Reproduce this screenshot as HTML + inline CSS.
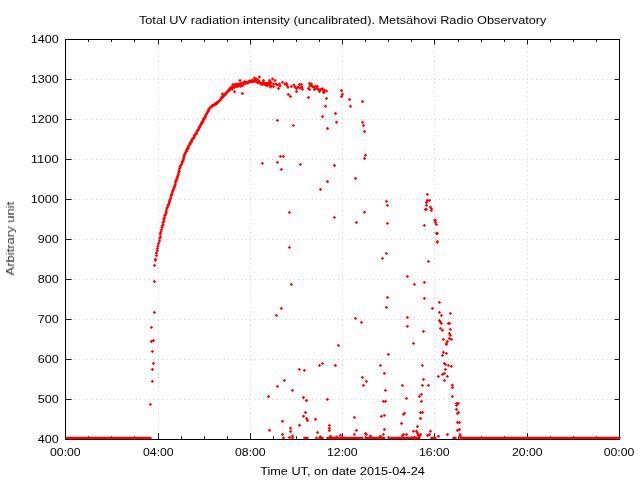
<!DOCTYPE html>
<html><head><meta charset="utf-8"><title>UV</title><style>html,body{margin:0;padding:0;background:#fff}body{width:640px;height:480px;overflow:hidden;font-family:"Liberation Sans",sans-serif}</style></head><body>
<svg width="640" height="480" viewBox="0 0 640 480" style="display:block">
<rect width="640" height="480" fill="#fff"/>
<g stroke="#cdcdcd" stroke-width="1" stroke-dasharray="1 3.4"><line x1="158.5" y1="47.3" x2="158.5" y2="432" /><line x1="250.5" y1="47.3" x2="250.5" y2="432" /><line x1="342.5" y1="47.3" x2="342.5" y2="432" /><line x1="434.5" y1="47.3" x2="434.5" y2="432" /><line x1="527.5" y1="47.3" x2="527.5" y2="432" /><line x1="74" y1="399.5" x2="613" y2="399.5" /><line x1="74" y1="359.5" x2="613" y2="359.5" /><line x1="74" y1="319.5" x2="613" y2="319.5" /><line x1="74" y1="279.5" x2="613" y2="279.5" /><line x1="74" y1="239.5" x2="613" y2="239.5" /><line x1="74" y1="199.5" x2="613" y2="199.5" /><line x1="74" y1="159.5" x2="613" y2="159.5" /><line x1="74" y1="119.5" x2="613" y2="119.5" /><line x1="74" y1="79.5" x2="613" y2="79.5" /></g>
<g stroke="#1c1c1c" stroke-width="1"><line x1="88.5" y1="39" x2="88.5" y2="42.1"/><line x1="88.5" y1="440" x2="88.5" y2="436.2"/><line x1="111.5" y1="39" x2="111.5" y2="42.1"/><line x1="111.5" y1="440" x2="111.5" y2="436.2"/><line x1="134.5" y1="39" x2="134.5" y2="42.1"/><line x1="134.5" y1="440" x2="134.5" y2="436.2"/><line x1="158.5" y1="39" x2="158.5" y2="44.6"/><line x1="158.5" y1="440" x2="158.5" y2="433.1"/><line x1="181.5" y1="39" x2="181.5" y2="42.1"/><line x1="181.5" y1="440" x2="181.5" y2="436.2"/><line x1="204.5" y1="39" x2="204.5" y2="42.1"/><line x1="204.5" y1="440" x2="204.5" y2="436.2"/><line x1="227.5" y1="39" x2="227.5" y2="42.1"/><line x1="227.5" y1="440" x2="227.5" y2="436.2"/><line x1="250.5" y1="39" x2="250.5" y2="44.6"/><line x1="250.5" y1="440" x2="250.5" y2="433.1"/><line x1="273.5" y1="39" x2="273.5" y2="42.1"/><line x1="273.5" y1="440" x2="273.5" y2="436.2"/><line x1="296.5" y1="39" x2="296.5" y2="42.1"/><line x1="296.5" y1="440" x2="296.5" y2="436.2"/><line x1="319.5" y1="39" x2="319.5" y2="42.1"/><line x1="319.5" y1="440" x2="319.5" y2="436.2"/><line x1="342.5" y1="39" x2="342.5" y2="44.6"/><line x1="342.5" y1="440" x2="342.5" y2="433.1"/><line x1="365.5" y1="39" x2="365.5" y2="42.1"/><line x1="365.5" y1="440" x2="365.5" y2="436.2"/><line x1="388.5" y1="39" x2="388.5" y2="42.1"/><line x1="388.5" y1="440" x2="388.5" y2="436.2"/><line x1="411.5" y1="39" x2="411.5" y2="42.1"/><line x1="411.5" y1="440" x2="411.5" y2="436.2"/><line x1="434.5" y1="39" x2="434.5" y2="44.6"/><line x1="434.5" y1="440" x2="434.5" y2="433.1"/><line x1="458.5" y1="39" x2="458.5" y2="42.1"/><line x1="458.5" y1="440" x2="458.5" y2="436.2"/><line x1="481.5" y1="39" x2="481.5" y2="42.1"/><line x1="481.5" y1="440" x2="481.5" y2="436.2"/><line x1="504.5" y1="39" x2="504.5" y2="42.1"/><line x1="504.5" y1="440" x2="504.5" y2="436.2"/><line x1="527.5" y1="39" x2="527.5" y2="44.6"/><line x1="527.5" y1="440" x2="527.5" y2="433.1"/><line x1="550.5" y1="39" x2="550.5" y2="42.1"/><line x1="550.5" y1="440" x2="550.5" y2="436.2"/><line x1="573.5" y1="39" x2="573.5" y2="42.1"/><line x1="573.5" y1="440" x2="573.5" y2="436.2"/><line x1="596.5" y1="39" x2="596.5" y2="42.1"/><line x1="596.5" y1="440" x2="596.5" y2="436.2"/><line x1="65" y1="399.5" x2="71.6" y2="399.5"/><line x1="620" y1="399.5" x2="614.4" y2="399.5"/><line x1="65" y1="359.5" x2="71.6" y2="359.5"/><line x1="620" y1="359.5" x2="614.4" y2="359.5"/><line x1="65" y1="319.5" x2="71.6" y2="319.5"/><line x1="620" y1="319.5" x2="614.4" y2="319.5"/><line x1="65" y1="279.5" x2="71.6" y2="279.5"/><line x1="620" y1="279.5" x2="614.4" y2="279.5"/><line x1="65" y1="239.5" x2="71.6" y2="239.5"/><line x1="620" y1="239.5" x2="614.4" y2="239.5"/><line x1="65" y1="199.5" x2="71.6" y2="199.5"/><line x1="620" y1="199.5" x2="614.4" y2="199.5"/><line x1="65" y1="159.5" x2="71.6" y2="159.5"/><line x1="620" y1="159.5" x2="614.4" y2="159.5"/><line x1="65" y1="119.5" x2="71.6" y2="119.5"/><line x1="620" y1="119.5" x2="614.4" y2="119.5"/><line x1="65" y1="79.5" x2="71.6" y2="79.5"/><line x1="620" y1="79.5" x2="614.4" y2="79.5"/></g>
<rect x="65.5" y="39.5" width="554" height="400" fill="none" stroke="#000" stroke-width="1" shape-rendering="crispEdges"/>
<path fill="#f00" d="M148.72 404.40l1.68 -1.68l1.68 1.68l-1.68 1.68zM150.72 381.40l1.68 -1.68l1.68 1.68l-1.68 1.68zM150.72 369.50l1.68 -1.68l1.68 1.68l-1.68 1.68zM151.72 363.50l1.68 -1.68l1.68 1.68l-1.68 1.68zM150.72 351.40l1.68 -1.68l1.68 1.68l-1.68 1.68zM149.72 341.50l1.68 -1.68l1.68 1.68l-1.68 1.68zM151.82 340.50l1.68 -1.68l1.68 1.68l-1.68 1.68zM149.72 327.40l1.68 -1.68l1.68 1.68l-1.68 1.68zM152.72 312.40l1.68 -1.68l1.68 1.68l-1.68 1.68zM152.72 281.50l1.68 -1.68l1.68 1.68l-1.68 1.68zM152.72 265.40l1.68 -1.68l1.68 1.68l-1.68 1.68zM153.72 260.20l1.68 -1.68l1.68 1.68l-1.68 1.68zM153.82 259.20l1.68 -1.68l1.68 1.68l-1.68 1.68zM154.72 255.50l1.68 -1.68l1.68 1.68l-1.68 1.68zM154.72 253.00l1.68 -1.68l1.68 1.68l-1.68 1.68zM155.72 250.50l1.68 -1.68l1.68 1.68l-1.68 1.68zM155.72 248.50l1.68 -1.68l1.68 1.68l-1.68 1.68zM156.32 246.00l1.68 -1.68l1.68 1.68l-1.68 1.68zM156.82 243.50l1.68 -1.68l1.68 1.68l-1.68 1.68zM157.82 241.00l1.68 -1.68l1.68 1.68l-1.68 1.68zM158.02 238.50l1.68 -1.68l1.68 1.68l-1.68 1.68zM158.82 237.00l1.68 -1.68l1.68 1.68l-1.68 1.68zM158.51 234.36l1.68 -1.68l1.68 1.68l-1.68 1.68zM158.82 232.99l1.68 -1.68l1.68 1.68l-1.68 1.68zM159.47 231.26l1.68 -1.68l1.68 1.68l-1.68 1.68zM159.98 229.24l1.68 -1.68l1.68 1.68l-1.68 1.68zM160.30 227.59l1.68 -1.68l1.68 1.68l-1.68 1.68zM160.38 225.98l1.68 -1.68l1.68 1.68l-1.68 1.68zM161.42 224.63l1.68 -1.68l1.68 1.68l-1.68 1.68zM161.26 222.75l1.68 -1.68l1.68 1.68l-1.68 1.68zM162.30 221.52l1.68 -1.68l1.68 1.68l-1.68 1.68zM162.19 219.85l1.68 -1.68l1.68 1.68l-1.68 1.68zM162.26 218.53l1.68 -1.68l1.68 1.68l-1.68 1.68zM162.86 217.15l1.68 -1.68l1.68 1.68l-1.68 1.68zM163.09 215.52l1.68 -1.68l1.68 1.68l-1.68 1.68zM164.11 214.59l1.68 -1.68l1.68 1.68l-1.68 1.68zM164.28 213.43l1.68 -1.68l1.68 1.68l-1.68 1.68zM164.48 212.74l1.68 -1.68l1.68 1.68l-1.68 1.68zM164.58 211.26l1.68 -1.68l1.68 1.68l-1.68 1.68zM165.10 208.95l1.68 -1.68l1.68 1.68l-1.68 1.68zM165.68 207.52l1.68 -1.68l1.68 1.68l-1.68 1.68zM166.21 206.03l1.68 -1.68l1.68 1.68l-1.68 1.68zM166.33 205.11l1.68 -1.68l1.68 1.68l-1.68 1.68zM167.08 204.36l1.68 -1.68l1.68 1.68l-1.68 1.68zM167.35 202.89l1.68 -1.68l1.68 1.68l-1.68 1.68zM168.01 201.97l1.68 -1.68l1.68 1.68l-1.68 1.68zM167.86 200.98l1.68 -1.68l1.68 1.68l-1.68 1.68zM168.09 200.03l1.68 -1.68l1.68 1.68l-1.68 1.68zM169.05 198.42l1.68 -1.68l1.68 1.68l-1.68 1.68zM169.20 196.80l1.68 -1.68l1.68 1.68l-1.68 1.68zM169.74 195.30l1.68 -1.68l1.68 1.68l-1.68 1.68zM170.04 194.47l1.68 -1.68l1.68 1.68l-1.68 1.68zM170.19 193.18l1.68 -1.68l1.68 1.68l-1.68 1.68zM170.83 191.88l1.68 -1.68l1.68 1.68l-1.68 1.68zM171.09 190.63l1.68 -1.68l1.68 1.68l-1.68 1.68zM171.92 189.68l1.68 -1.68l1.68 1.68l-1.68 1.68zM172.05 188.32l1.68 -1.68l1.68 1.68l-1.68 1.68zM172.47 187.22l1.68 -1.68l1.68 1.68l-1.68 1.68zM173.11 186.92l1.68 -1.68l1.68 1.68l-1.68 1.68zM172.86 185.99l1.68 -1.68l1.68 1.68l-1.68 1.68zM173.59 184.40l1.68 -1.68l1.68 1.68l-1.68 1.68zM173.79 182.85l1.68 -1.68l1.68 1.68l-1.68 1.68zM173.86 181.72l1.68 -1.68l1.68 1.68l-1.68 1.68zM174.84 180.38l1.68 -1.68l1.68 1.68l-1.68 1.68zM174.75 179.15l1.68 -1.68l1.68 1.68l-1.68 1.68zM175.70 178.01l1.68 -1.68l1.68 1.68l-1.68 1.68zM175.70 176.42l1.68 -1.68l1.68 1.68l-1.68 1.68zM176.48 175.45l1.68 -1.68l1.68 1.68l-1.68 1.68zM176.84 174.32l1.68 -1.68l1.68 1.68l-1.68 1.68zM176.83 172.56l1.68 -1.68l1.68 1.68l-1.68 1.68zM177.63 171.37l1.68 -1.68l1.68 1.68l-1.68 1.68zM177.36 170.60l1.68 -1.68l1.68 1.68l-1.68 1.68zM177.81 168.72l1.68 -1.68l1.68 1.68l-1.68 1.68zM178.43 167.52l1.68 -1.68l1.68 1.68l-1.68 1.68zM178.61 166.56l1.68 -1.68l1.68 1.68l-1.68 1.68zM179.14 165.13l1.68 -1.68l1.68 1.68l-1.68 1.68zM179.65 164.46l1.68 -1.68l1.68 1.68l-1.68 1.68zM180.15 163.96l1.68 -1.68l1.68 1.68l-1.68 1.68zM180.47 162.65l1.68 -1.68l1.68 1.68l-1.68 1.68zM180.35 161.82l1.68 -1.68l1.68 1.68l-1.68 1.68zM181.39 160.96l1.68 -1.68l1.68 1.68l-1.68 1.68zM181.79 159.88l1.68 -1.68l1.68 1.68l-1.68 1.68zM181.81 158.43l1.68 -1.68l1.68 1.68l-1.68 1.68zM182.41 157.15l1.68 -1.68l1.68 1.68l-1.68 1.68zM182.28 156.05l1.68 -1.68l1.68 1.68l-1.68 1.68zM182.75 155.17l1.68 -1.68l1.68 1.68l-1.68 1.68zM183.04 154.32l1.68 -1.68l1.68 1.68l-1.68 1.68zM183.51 153.08l1.68 -1.68l1.68 1.68l-1.68 1.68zM184.09 152.20l1.68 -1.68l1.68 1.68l-1.68 1.68zM184.93 151.18l1.68 -1.68l1.68 1.68l-1.68 1.68zM184.66 150.77l1.68 -1.68l1.68 1.68l-1.68 1.68zM185.23 149.71l1.68 -1.68l1.68 1.68l-1.68 1.68zM185.41 149.03l1.68 -1.68l1.68 1.68l-1.68 1.68zM186.58 148.65l1.68 -1.68l1.68 1.68l-1.68 1.68zM186.51 147.57l1.68 -1.68l1.68 1.68l-1.68 1.68zM186.55 146.50l1.68 -1.68l1.68 1.68l-1.68 1.68zM187.08 145.94l1.68 -1.68l1.68 1.68l-1.68 1.68zM187.37 145.55l1.68 -1.68l1.68 1.68l-1.68 1.68zM188.46 144.14l1.68 -1.68l1.68 1.68l-1.68 1.68zM188.13 143.78l1.68 -1.68l1.68 1.68l-1.68 1.68zM188.40 143.02l1.68 -1.68l1.68 1.68l-1.68 1.68zM189.64 142.24l1.68 -1.68l1.68 1.68l-1.68 1.68zM189.77 141.74l1.68 -1.68l1.68 1.68l-1.68 1.68zM189.86 140.48l1.68 -1.68l1.68 1.68l-1.68 1.68zM190.61 139.66l1.68 -1.68l1.68 1.68l-1.68 1.68zM191.00 139.33l1.68 -1.68l1.68 1.68l-1.68 1.68zM190.89 138.56l1.68 -1.68l1.68 1.68l-1.68 1.68zM191.96 138.33l1.68 -1.68l1.68 1.68l-1.68 1.68zM192.18 137.74l1.68 -1.68l1.68 1.68l-1.68 1.68zM192.51 137.10l1.68 -1.68l1.68 1.68l-1.68 1.68zM192.69 136.01l1.68 -1.68l1.68 1.68l-1.68 1.68zM192.64 135.50l1.68 -1.68l1.68 1.68l-1.68 1.68zM193.25 134.62l1.68 -1.68l1.68 1.68l-1.68 1.68zM194.00 134.19l1.68 -1.68l1.68 1.68l-1.68 1.68zM194.17 134.13l1.68 -1.68l1.68 1.68l-1.68 1.68zM195.04 133.50l1.68 -1.68l1.68 1.68l-1.68 1.68zM194.86 132.90l1.68 -1.68l1.68 1.68l-1.68 1.68zM195.12 131.67l1.68 -1.68l1.68 1.68l-1.68 1.68zM195.49 130.78l1.68 -1.68l1.68 1.68l-1.68 1.68zM196.50 130.26l1.68 -1.68l1.68 1.68l-1.68 1.68zM196.50 129.57l1.68 -1.68l1.68 1.68l-1.68 1.68zM197.18 128.55l1.68 -1.68l1.68 1.68l-1.68 1.68zM197.44 127.23l1.68 -1.68l1.68 1.68l-1.68 1.68zM197.93 127.26l1.68 -1.68l1.68 1.68l-1.68 1.68zM198.04 126.51l1.68 -1.68l1.68 1.68l-1.68 1.68zM198.71 125.44l1.68 -1.68l1.68 1.68l-1.68 1.68zM199.10 124.95l1.68 -1.68l1.68 1.68l-1.68 1.68zM199.12 124.84l1.68 -1.68l1.68 1.68l-1.68 1.68zM200.00 123.77l1.68 -1.68l1.68 1.68l-1.68 1.68zM199.69 123.38l1.68 -1.68l1.68 1.68l-1.68 1.68zM200.06 122.21l1.68 -1.68l1.68 1.68l-1.68 1.68zM201.03 122.14l1.68 -1.68l1.68 1.68l-1.68 1.68zM201.43 120.84l1.68 -1.68l1.68 1.68l-1.68 1.68zM201.67 120.82l1.68 -1.68l1.68 1.68l-1.68 1.68zM201.95 119.62l1.68 -1.68l1.68 1.68l-1.68 1.68zM201.86 118.75l1.68 -1.68l1.68 1.68l-1.68 1.68zM202.81 118.66l1.68 -1.68l1.68 1.68l-1.68 1.68zM203.45 117.54l1.68 -1.68l1.68 1.68l-1.68 1.68zM203.78 116.69l1.68 -1.68l1.68 1.68l-1.68 1.68zM203.57 116.24l1.68 -1.68l1.68 1.68l-1.68 1.68zM204.03 115.01l1.68 -1.68l1.68 1.68l-1.68 1.68zM204.68 114.23l1.68 -1.68l1.68 1.68l-1.68 1.68zM204.91 113.47l1.68 -1.68l1.68 1.68l-1.68 1.68zM205.74 112.60l1.68 -1.68l1.68 1.68l-1.68 1.68zM205.72 112.01l1.68 -1.68l1.68 1.68l-1.68 1.68zM206.50 111.43l1.68 -1.68l1.68 1.68l-1.68 1.68zM206.90 110.63l1.68 -1.68l1.68 1.68l-1.68 1.68zM206.94 110.12l1.68 -1.68l1.68 1.68l-1.68 1.68zM206.86 109.56l1.68 -1.68l1.68 1.68l-1.68 1.68zM207.39 108.91l1.68 -1.68l1.68 1.68l-1.68 1.68zM208.33 107.99l1.68 -1.68l1.68 1.68l-1.68 1.68zM208.43 107.61l1.68 -1.68l1.68 1.68l-1.68 1.68zM208.88 107.67l1.68 -1.68l1.68 1.68l-1.68 1.68zM209.24 106.96l1.68 -1.68l1.68 1.68l-1.68 1.68zM209.86 106.76l1.68 -1.68l1.68 1.68l-1.68 1.68zM210.04 106.02l1.68 -1.68l1.68 1.68l-1.68 1.68zM210.17 105.75l1.68 -1.68l1.68 1.68l-1.68 1.68zM210.76 105.78l1.68 -1.68l1.68 1.68l-1.68 1.68zM211.38 105.42l1.68 -1.68l1.68 1.68l-1.68 1.68zM211.48 105.55l1.68 -1.68l1.68 1.68l-1.68 1.68zM211.92 105.15l1.68 -1.68l1.68 1.68l-1.68 1.68zM212.47 104.92l1.68 -1.68l1.68 1.68l-1.68 1.68zM212.68 104.34l1.68 -1.68l1.68 1.68l-1.68 1.68zM213.07 104.73l1.68 -1.68l1.68 1.68l-1.68 1.68zM213.45 103.60l1.68 -1.68l1.68 1.68l-1.68 1.68zM213.84 104.31l1.68 -1.68l1.68 1.68l-1.68 1.68zM214.22 103.74l1.68 -1.68l1.68 1.68l-1.68 1.68zM214.60 103.05l1.68 -1.68l1.68 1.68l-1.68 1.68zM214.99 103.75l1.68 -1.68l1.68 1.68l-1.68 1.68zM215.37 103.17l1.68 -1.68l1.68 1.68l-1.68 1.68zM215.76 102.26l1.68 -1.68l1.68 1.68l-1.68 1.68zM216.14 102.31l1.68 -1.68l1.68 1.68l-1.68 1.68zM216.53 102.25l1.68 -1.68l1.68 1.68l-1.68 1.68zM216.91 101.53l1.68 -1.68l1.68 1.68l-1.68 1.68zM217.30 101.50l1.68 -1.68l1.68 1.68l-1.68 1.68zM217.68 101.03l1.68 -1.68l1.68 1.68l-1.68 1.68zM218.07 100.54l1.68 -1.68l1.68 1.68l-1.68 1.68zM218.45 99.95l1.68 -1.68l1.68 1.68l-1.68 1.68zM218.84 99.83l1.68 -1.68l1.68 1.68l-1.68 1.68zM219.22 99.12l1.68 -1.68l1.68 1.68l-1.68 1.68zM219.61 98.57l1.68 -1.68l1.68 1.68l-1.68 1.68zM219.99 97.21l1.68 -1.68l1.68 1.68l-1.68 1.68zM220.38 97.78l1.68 -1.68l1.68 1.68l-1.68 1.68zM220.76 97.45l1.68 -1.68l1.68 1.68l-1.68 1.68zM221.15 96.41l1.68 -1.68l1.68 1.68l-1.68 1.68zM221.53 95.92l1.68 -1.68l1.68 1.68l-1.68 1.68zM221.91 96.36l1.68 -1.68l1.68 1.68l-1.68 1.68zM222.30 94.67l1.68 -1.68l1.68 1.68l-1.68 1.68zM222.68 95.05l1.68 -1.68l1.68 1.68l-1.68 1.68zM223.07 95.34l1.68 -1.68l1.68 1.68l-1.68 1.68zM223.45 93.77l1.68 -1.68l1.68 1.68l-1.68 1.68zM223.84 93.94l1.68 -1.68l1.68 1.68l-1.68 1.68zM224.22 93.96l1.68 -1.68l1.68 1.68l-1.68 1.68zM224.61 92.85l1.68 -1.68l1.68 1.68l-1.68 1.68zM224.99 92.68l1.68 -1.68l1.68 1.68l-1.68 1.68zM225.38 92.39l1.68 -1.68l1.68 1.68l-1.68 1.68zM225.76 91.35l1.68 -1.68l1.68 1.68l-1.68 1.68zM226.15 91.22l1.68 -1.68l1.68 1.68l-1.68 1.68zM226.53 91.08l1.68 -1.68l1.68 1.68l-1.68 1.68zM226.92 91.09l1.68 -1.68l1.68 1.68l-1.68 1.68zM227.30 89.99l1.68 -1.68l1.68 1.68l-1.68 1.68zM227.69 89.50l1.68 -1.68l1.68 1.68l-1.68 1.68zM228.07 88.49l1.68 -1.68l1.68 1.68l-1.68 1.68zM228.45 88.65l1.68 -1.68l1.68 1.68l-1.68 1.68zM228.84 89.30l1.68 -1.68l1.68 1.68l-1.68 1.68zM229.22 88.30l1.68 -1.68l1.68 1.68l-1.68 1.68zM229.61 87.18l1.68 -1.68l1.68 1.68l-1.68 1.68zM229.99 86.83l1.68 -1.68l1.68 1.68l-1.68 1.68zM230.38 89.31l1.68 -1.68l1.68 1.68l-1.68 1.68zM230.76 87.91l1.68 -1.68l1.68 1.68l-1.68 1.68zM231.15 87.32l1.68 -1.68l1.68 1.68l-1.68 1.68zM231.53 84.56l1.68 -1.68l1.68 1.68l-1.68 1.68zM231.92 86.95l1.68 -1.68l1.68 1.68l-1.68 1.68zM232.30 86.66l1.68 -1.68l1.68 1.68l-1.68 1.68zM232.69 87.44l1.68 -1.68l1.68 1.68l-1.68 1.68zM233.07 86.26l1.68 -1.68l1.68 1.68l-1.68 1.68zM233.46 85.71l1.68 -1.68l1.68 1.68l-1.68 1.68zM233.84 86.08l1.68 -1.68l1.68 1.68l-1.68 1.68zM234.23 84.00l1.68 -1.68l1.68 1.68l-1.68 1.68zM234.61 86.28l1.68 -1.68l1.68 1.68l-1.68 1.68zM235.00 85.61l1.68 -1.68l1.68 1.68l-1.68 1.68zM235.38 84.69l1.68 -1.68l1.68 1.68l-1.68 1.68zM235.76 86.21l1.68 -1.68l1.68 1.68l-1.68 1.68zM236.15 86.49l1.68 -1.68l1.68 1.68l-1.68 1.68zM236.53 83.84l1.68 -1.68l1.68 1.68l-1.68 1.68zM236.92 84.37l1.68 -1.68l1.68 1.68l-1.68 1.68zM237.30 85.07l1.68 -1.68l1.68 1.68l-1.68 1.68zM237.69 84.92l1.68 -1.68l1.68 1.68l-1.68 1.68zM238.07 84.39l1.68 -1.68l1.68 1.68l-1.68 1.68zM238.46 83.86l1.68 -1.68l1.68 1.68l-1.68 1.68zM238.84 86.28l1.68 -1.68l1.68 1.68l-1.68 1.68zM239.23 85.35l1.68 -1.68l1.68 1.68l-1.68 1.68zM239.61 83.45l1.68 -1.68l1.68 1.68l-1.68 1.68zM240.00 83.20l1.68 -1.68l1.68 1.68l-1.68 1.68zM240.38 85.51l1.68 -1.68l1.68 1.68l-1.68 1.68zM240.77 84.81l1.68 -1.68l1.68 1.68l-1.68 1.68zM241.15 85.35l1.68 -1.68l1.68 1.68l-1.68 1.68zM241.54 84.41l1.68 -1.68l1.68 1.68l-1.68 1.68zM241.92 82.94l1.68 -1.68l1.68 1.68l-1.68 1.68zM242.30 83.71l1.68 -1.68l1.68 1.68l-1.68 1.68zM242.69 81.65l1.68 -1.68l1.68 1.68l-1.68 1.68zM243.07 82.65l1.68 -1.68l1.68 1.68l-1.68 1.68zM243.46 83.07l1.68 -1.68l1.68 1.68l-1.68 1.68zM243.84 83.41l1.68 -1.68l1.68 1.68l-1.68 1.68zM244.23 82.28l1.68 -1.68l1.68 1.68l-1.68 1.68zM244.61 82.64l1.68 -1.68l1.68 1.68l-1.68 1.68zM245.00 82.97l1.68 -1.68l1.68 1.68l-1.68 1.68zM245.38 82.78l1.68 -1.68l1.68 1.68l-1.68 1.68zM245.77 82.86l1.68 -1.68l1.68 1.68l-1.68 1.68zM246.15 82.39l1.68 -1.68l1.68 1.68l-1.68 1.68zM246.54 81.84l1.68 -1.68l1.68 1.68l-1.68 1.68zM246.92 82.60l1.68 -1.68l1.68 1.68l-1.68 1.68zM247.31 81.88l1.68 -1.68l1.68 1.68l-1.68 1.68zM247.69 81.05l1.68 -1.68l1.68 1.68l-1.68 1.68zM248.08 81.08l1.68 -1.68l1.68 1.68l-1.68 1.68zM248.46 81.48l1.68 -1.68l1.68 1.68l-1.68 1.68zM248.85 81.32l1.68 -1.68l1.68 1.68l-1.68 1.68zM249.23 81.47l1.68 -1.68l1.68 1.68l-1.68 1.68zM249.61 81.28l1.68 -1.68l1.68 1.68l-1.68 1.68zM250.00 81.36l1.68 -1.68l1.68 1.68l-1.68 1.68zM250.38 81.05l1.68 -1.68l1.68 1.68l-1.68 1.68zM250.77 80.09l1.68 -1.68l1.68 1.68l-1.68 1.68zM251.15 81.36l1.68 -1.68l1.68 1.68l-1.68 1.68zM251.54 81.84l1.68 -1.68l1.68 1.68l-1.68 1.68zM251.92 81.35l1.68 -1.68l1.68 1.68l-1.68 1.68zM252.31 80.85l1.68 -1.68l1.68 1.68l-1.68 1.68zM252.69 81.36l1.68 -1.68l1.68 1.68l-1.68 1.68zM253.08 80.23l1.68 -1.68l1.68 1.68l-1.68 1.68zM253.46 79.48l1.68 -1.68l1.68 1.68l-1.68 1.68zM253.85 81.05l1.68 -1.68l1.68 1.68l-1.68 1.68zM254.23 80.26l1.68 -1.68l1.68 1.68l-1.68 1.68zM254.62 81.69l1.68 -1.68l1.68 1.68l-1.68 1.68zM255.00 80.36l1.68 -1.68l1.68 1.68l-1.68 1.68zM255.39 79.25l1.68 -1.68l1.68 1.68l-1.68 1.68zM255.77 80.65l1.68 -1.68l1.68 1.68l-1.68 1.68zM256.15 82.87l1.68 -1.68l1.68 1.68l-1.68 1.68zM256.54 81.43l1.68 -1.68l1.68 1.68l-1.68 1.68zM256.92 80.77l1.68 -1.68l1.68 1.68l-1.68 1.68zM257.31 81.39l1.68 -1.68l1.68 1.68l-1.68 1.68zM257.69 82.58l1.68 -1.68l1.68 1.68l-1.68 1.68zM258.08 82.73l1.68 -1.68l1.68 1.68l-1.68 1.68zM258.46 82.64l1.68 -1.68l1.68 1.68l-1.68 1.68zM258.85 83.85l1.68 -1.68l1.68 1.68l-1.68 1.68zM259.23 83.39l1.68 -1.68l1.68 1.68l-1.68 1.68zM259.62 82.98l1.68 -1.68l1.68 1.68l-1.68 1.68zM260.00 83.64l1.68 -1.68l1.68 1.68l-1.68 1.68zM260.39 84.63l1.68 -1.68l1.68 1.68l-1.68 1.68zM260.77 84.11l1.68 -1.68l1.68 1.68l-1.68 1.68zM261.16 84.17l1.68 -1.68l1.68 1.68l-1.68 1.68zM261.54 82.52l1.68 -1.68l1.68 1.68l-1.68 1.68zM261.93 83.29l1.68 -1.68l1.68 1.68l-1.68 1.68zM262.31 84.02l1.68 -1.68l1.68 1.68l-1.68 1.68zM262.69 83.22l1.68 -1.68l1.68 1.68l-1.68 1.68zM263.08 84.34l1.68 -1.68l1.68 1.68l-1.68 1.68zM263.46 83.98l1.68 -1.68l1.68 1.68l-1.68 1.68zM263.85 84.23l1.68 -1.68l1.68 1.68l-1.68 1.68zM264.23 83.33l1.68 -1.68l1.68 1.68l-1.68 1.68zM264.62 85.54l1.68 -1.68l1.68 1.68l-1.68 1.68zM265.00 84.49l1.68 -1.68l1.68 1.68l-1.68 1.68zM265.39 83.33l1.68 -1.68l1.68 1.68l-1.68 1.68zM265.77 83.57l1.68 -1.68l1.68 1.68l-1.68 1.68zM266.16 85.58l1.68 -1.68l1.68 1.68l-1.68 1.68zM266.54 83.28l1.68 -1.68l1.68 1.68l-1.68 1.68zM266.93 84.35l1.68 -1.68l1.68 1.68l-1.68 1.68zM267.31 84.53l1.68 -1.68l1.68 1.68l-1.68 1.68zM267.70 83.85l1.68 -1.68l1.68 1.68l-1.68 1.68zM268.08 83.01l1.68 -1.68l1.68 1.68l-1.68 1.68zM220.82 94.00l1.68 -1.68l1.68 1.68l-1.68 1.68zM232.82 91.80l1.68 -1.68l1.68 1.68l-1.68 1.68zM240.82 93.50l1.68 -1.68l1.68 1.68l-1.68 1.68zM238.32 80.50l1.68 -1.68l1.68 1.68l-1.68 1.68zM231.32 84.50l1.68 -1.68l1.68 1.68l-1.68 1.68zM252.82 78.00l1.68 -1.68l1.68 1.68l-1.68 1.68zM257.82 77.00l1.68 -1.68l1.68 1.68l-1.68 1.68zM270.82 79.00l1.68 -1.68l1.68 1.68l-1.68 1.68zM267.82 80.50l1.68 -1.68l1.68 1.68l-1.68 1.68zM268.82 87.00l1.68 -1.68l1.68 1.68l-1.68 1.68zM261.82 80.50l1.68 -1.68l1.68 1.68l-1.68 1.68zM273.32 80.50l1.68 -1.68l1.68 1.68l-1.68 1.68zM269.32 82.50l1.68 -1.68l1.68 1.68l-1.68 1.68zM271.82 84.00l1.68 -1.68l1.68 1.68l-1.68 1.68zM274.32 84.00l1.68 -1.68l1.68 1.68l-1.68 1.68zM269.32 86.00l1.68 -1.68l1.68 1.68l-1.68 1.68zM271.82 86.50l1.68 -1.68l1.68 1.68l-1.68 1.68zM275.32 85.00l1.68 -1.68l1.68 1.68l-1.68 1.68zM277.82 84.00l1.68 -1.68l1.68 1.68l-1.68 1.68zM278.32 86.00l1.68 -1.68l1.68 1.68l-1.68 1.68zM276.82 88.50l1.68 -1.68l1.68 1.68l-1.68 1.68zM280.82 82.20l1.68 -1.68l1.68 1.68l-1.68 1.68zM283.32 84.00l1.68 -1.68l1.68 1.68l-1.68 1.68zM284.82 83.50l1.68 -1.68l1.68 1.68l-1.68 1.68zM285.32 85.50l1.68 -1.68l1.68 1.68l-1.68 1.68zM286.32 87.20l1.68 -1.68l1.68 1.68l-1.68 1.68zM289.82 86.50l1.68 -1.68l1.68 1.68l-1.68 1.68zM292.32 85.00l1.68 -1.68l1.68 1.68l-1.68 1.68zM293.32 87.00l1.68 -1.68l1.68 1.68l-1.68 1.68zM294.82 88.50l1.68 -1.68l1.68 1.68l-1.68 1.68zM294.82 91.50l1.68 -1.68l1.68 1.68l-1.68 1.68zM296.32 87.00l1.68 -1.68l1.68 1.68l-1.68 1.68zM297.82 84.50l1.68 -1.68l1.68 1.68l-1.68 1.68zM299.82 84.50l1.68 -1.68l1.68 1.68l-1.68 1.68zM298.32 88.00l1.68 -1.68l1.68 1.68l-1.68 1.68zM300.32 87.00l1.68 -1.68l1.68 1.68l-1.68 1.68zM300.82 89.20l1.68 -1.68l1.68 1.68l-1.68 1.68zM286.62 94.50l1.68 -1.68l1.68 1.68l-1.68 1.68zM288.82 96.50l1.68 -1.68l1.68 1.68l-1.68 1.68zM306.82 97.50l1.68 -1.68l1.68 1.68l-1.68 1.68zM307.82 83.50l1.68 -1.68l1.68 1.68l-1.68 1.68zM309.82 84.00l1.68 -1.68l1.68 1.68l-1.68 1.68zM308.32 86.00l1.68 -1.68l1.68 1.68l-1.68 1.68zM306.82 88.50l1.68 -1.68l1.68 1.68l-1.68 1.68zM307.82 89.50l1.68 -1.68l1.68 1.68l-1.68 1.68zM310.82 86.50l1.68 -1.68l1.68 1.68l-1.68 1.68zM312.32 87.50l1.68 -1.68l1.68 1.68l-1.68 1.68zM312.82 89.50l1.68 -1.68l1.68 1.68l-1.68 1.68zM313.82 86.20l1.68 -1.68l1.68 1.68l-1.68 1.68zM315.82 86.50l1.68 -1.68l1.68 1.68l-1.68 1.68zM315.32 88.50l1.68 -1.68l1.68 1.68l-1.68 1.68zM316.82 89.50l1.68 -1.68l1.68 1.68l-1.68 1.68zM317.82 91.50l1.68 -1.68l1.68 1.68l-1.68 1.68zM320.82 89.50l1.68 -1.68l1.68 1.68l-1.68 1.68zM322.82 90.50l1.68 -1.68l1.68 1.68l-1.68 1.68zM321.82 92.20l1.68 -1.68l1.68 1.68l-1.68 1.68zM324.82 91.00l1.68 -1.68l1.68 1.68l-1.68 1.68zM319.02 89.50l1.68 -1.68l1.68 1.68l-1.68 1.68zM320.82 88.80l1.68 -1.68l1.68 1.68l-1.68 1.68zM322.32 92.50l1.68 -1.68l1.68 1.68l-1.68 1.68zM324.82 98.50l1.68 -1.68l1.68 1.68l-1.68 1.68zM323.82 106.30l1.68 -1.68l1.68 1.68l-1.68 1.68zM320.82 116.50l1.68 -1.68l1.68 1.68l-1.68 1.68zM333.82 113.50l1.68 -1.68l1.68 1.68l-1.68 1.68zM334.82 122.30l1.68 -1.68l1.68 1.68l-1.68 1.68zM339.82 90.50l1.68 -1.68l1.68 1.68l-1.68 1.68zM340.82 94.30l1.68 -1.68l1.68 1.68l-1.68 1.68zM339.82 96.50l1.68 -1.68l1.68 1.68l-1.68 1.68zM347.82 99.50l1.68 -1.68l1.68 1.68l-1.68 1.68zM348.82 106.30l1.68 -1.68l1.68 1.68l-1.68 1.68zM360.82 101.50l1.68 -1.68l1.68 1.68l-1.68 1.68zM360.82 122.30l1.68 -1.68l1.68 1.68l-1.68 1.68zM325.82 128.50l1.68 -1.68l1.68 1.68l-1.68 1.68zM332.82 165.50l1.68 -1.68l1.68 1.68l-1.68 1.68zM361.82 125.50l1.68 -1.68l1.68 1.68l-1.68 1.68zM362.82 131.50l1.68 -1.68l1.68 1.68l-1.68 1.68zM363.82 155.30l1.68 -1.68l1.68 1.68l-1.68 1.68zM362.82 158.50l1.68 -1.68l1.68 1.68l-1.68 1.68zM325.82 181.50l1.68 -1.68l1.68 1.68l-1.68 1.68zM318.82 189.40l1.68 -1.68l1.68 1.68l-1.68 1.68zM353.82 178.50l1.68 -1.68l1.68 1.68l-1.68 1.68zM362.82 212.20l1.68 -1.68l1.68 1.68l-1.68 1.68zM332.72 217.40l1.68 -1.68l1.68 1.68l-1.68 1.68zM354.72 222.40l1.68 -1.68l1.68 1.68l-1.68 1.68zM385.82 223.40l1.68 -1.68l1.68 1.68l-1.68 1.68zM384.72 253.40l1.68 -1.68l1.68 1.68l-1.68 1.68zM380.72 258.40l1.68 -1.68l1.68 1.68l-1.68 1.68zM353.82 318.40l1.68 -1.68l1.68 1.68l-1.68 1.68zM359.72 322.40l1.68 -1.68l1.68 1.68l-1.68 1.68zM385.82 297.40l1.68 -1.68l1.68 1.68l-1.68 1.68zM384.72 307.40l1.68 -1.68l1.68 1.68l-1.68 1.68zM336.72 345.40l1.68 -1.68l1.68 1.68l-1.68 1.68zM320.82 363.40l1.68 -1.68l1.68 1.68l-1.68 1.68zM317.82 365.40l1.68 -1.68l1.68 1.68l-1.68 1.68zM333.72 365.40l1.68 -1.68l1.68 1.68l-1.68 1.68zM386.72 354.40l1.68 -1.68l1.68 1.68l-1.68 1.68zM378.72 365.40l1.68 -1.68l1.68 1.68l-1.68 1.68zM382.72 373.40l1.68 -1.68l1.68 1.68l-1.68 1.68zM360.72 377.40l1.68 -1.68l1.68 1.68l-1.68 1.68zM364.72 381.40l1.68 -1.68l1.68 1.68l-1.68 1.68zM361.72 385.40l1.68 -1.68l1.68 1.68l-1.68 1.68zM383.72 390.40l1.68 -1.68l1.68 1.68l-1.68 1.68zM325.72 399.40l1.68 -1.68l1.68 1.68l-1.68 1.68zM381.72 401.40l1.68 -1.68l1.68 1.68l-1.68 1.68zM383.82 401.40l1.68 -1.68l1.68 1.68l-1.68 1.68zM352.72 417.40l1.68 -1.68l1.68 1.68l-1.68 1.68zM379.72 416.40l1.68 -1.68l1.68 1.68l-1.68 1.68zM382.72 415.40l1.68 -1.68l1.68 1.68l-1.68 1.68zM327.72 425.40l1.68 -1.68l1.68 1.68l-1.68 1.68zM327.72 428.30l1.68 -1.68l1.68 1.68l-1.68 1.68zM327.72 430.50l1.68 -1.68l1.68 1.68l-1.68 1.68zM354.72 430.40l1.68 -1.68l1.68 1.68l-1.68 1.68zM382.72 429.40l1.68 -1.68l1.68 1.68l-1.68 1.68zM352.72 434.40l1.68 -1.68l1.68 1.68l-1.68 1.68zM363.72 433.40l1.68 -1.68l1.68 1.68l-1.68 1.68zM364.72 434.40l1.68 -1.68l1.68 1.68l-1.68 1.68zM381.72 434.40l1.68 -1.68l1.68 1.68l-1.68 1.68zM328.82 436.20l1.68 -1.68l1.68 1.68l-1.68 1.68zM338.82 435.30l1.68 -1.68l1.68 1.68l-1.68 1.68zM368.82 436.00l1.68 -1.68l1.68 1.68l-1.68 1.68zM378.72 436.30l1.68 -1.68l1.68 1.68l-1.68 1.68zM334.82 437.00l1.68 -1.68l1.68 1.68l-1.68 1.68zM384.72 201.40l1.68 -1.68l1.68 1.68l-1.68 1.68zM385.72 205.40l1.68 -1.68l1.68 1.68l-1.68 1.68zM425.72 194.40l1.68 -1.68l1.68 1.68l-1.68 1.68zM425.72 200.40l1.68 -1.68l1.68 1.68l-1.68 1.68zM427.92 200.40l1.68 -1.68l1.68 1.68l-1.68 1.68zM424.72 202.50l1.68 -1.68l1.68 1.68l-1.68 1.68zM424.72 205.40l1.68 -1.68l1.68 1.68l-1.68 1.68zM428.72 207.10l1.68 -1.68l1.68 1.68l-1.68 1.68zM423.72 209.40l1.68 -1.68l1.68 1.68l-1.68 1.68zM424.72 209.40l1.68 -1.68l1.68 1.68l-1.68 1.68zM429.72 208.60l1.68 -1.68l1.68 1.68l-1.68 1.68zM429.72 210.40l1.68 -1.68l1.68 1.68l-1.68 1.68zM422.72 225.40l1.68 -1.68l1.68 1.68l-1.68 1.68zM432.92 220.10l1.68 -1.68l1.68 1.68l-1.68 1.68zM433.72 220.40l1.68 -1.68l1.68 1.68l-1.68 1.68zM433.92 222.40l1.68 -1.68l1.68 1.68l-1.68 1.68zM434.72 224.40l1.68 -1.68l1.68 1.68l-1.68 1.68zM434.72 233.40l1.68 -1.68l1.68 1.68l-1.68 1.68zM435.72 233.40l1.68 -1.68l1.68 1.68l-1.68 1.68zM435.72 241.60l1.68 -1.68l1.68 1.68l-1.68 1.68zM435.72 242.40l1.68 -1.68l1.68 1.68l-1.68 1.68zM426.72 261.40l1.68 -1.68l1.68 1.68l-1.68 1.68zM405.72 276.40l1.68 -1.68l1.68 1.68l-1.68 1.68zM412.72 284.40l1.68 -1.68l1.68 1.68l-1.68 1.68zM422.72 282.40l1.68 -1.68l1.68 1.68l-1.68 1.68zM422.72 298.40l1.68 -1.68l1.68 1.68l-1.68 1.68zM437.72 302.40l1.68 -1.68l1.68 1.68l-1.68 1.68zM430.72 308.40l1.68 -1.68l1.68 1.68l-1.68 1.68zM437.72 312.40l1.68 -1.68l1.68 1.68l-1.68 1.68zM448.72 313.40l1.68 -1.68l1.68 1.68l-1.68 1.68zM439.72 315.40l1.68 -1.68l1.68 1.68l-1.68 1.68zM405.72 317.40l1.68 -1.68l1.68 1.68l-1.68 1.68zM437.72 320.40l1.68 -1.68l1.68 1.68l-1.68 1.68zM438.72 322.10l1.68 -1.68l1.68 1.68l-1.68 1.68zM439.72 323.40l1.68 -1.68l1.68 1.68l-1.68 1.68zM446.72 323.40l1.68 -1.68l1.68 1.68l-1.68 1.68zM447.92 323.40l1.68 -1.68l1.68 1.68l-1.68 1.68zM405.72 326.40l1.68 -1.68l1.68 1.68l-1.68 1.68zM438.72 328.40l1.68 -1.68l1.68 1.68l-1.68 1.68zM440.72 330.40l1.68 -1.68l1.68 1.68l-1.68 1.68zM448.72 329.40l1.68 -1.68l1.68 1.68l-1.68 1.68zM421.72 331.40l1.68 -1.68l1.68 1.68l-1.68 1.68zM447.72 333.40l1.68 -1.68l1.68 1.68l-1.68 1.68zM448.72 335.40l1.68 -1.68l1.68 1.68l-1.68 1.68zM441.72 339.40l1.68 -1.68l1.68 1.68l-1.68 1.68zM447.72 338.40l1.68 -1.68l1.68 1.68l-1.68 1.68zM449.72 339.40l1.68 -1.68l1.68 1.68l-1.68 1.68zM445.72 341.40l1.68 -1.68l1.68 1.68l-1.68 1.68zM444.72 343.40l1.68 -1.68l1.68 1.68l-1.68 1.68zM444.72 344.40l1.68 -1.68l1.68 1.68l-1.68 1.68zM411.72 343.40l1.68 -1.68l1.68 1.68l-1.68 1.68zM441.72 352.20l1.68 -1.68l1.68 1.68l-1.68 1.68zM444.72 353.40l1.68 -1.68l1.68 1.68l-1.68 1.68zM440.72 355.40l1.68 -1.68l1.68 1.68l-1.68 1.68zM400.72 385.40l1.68 -1.68l1.68 1.68l-1.68 1.68zM404.72 398.40l1.68 -1.68l1.68 1.68l-1.68 1.68zM420.72 365.40l1.68 -1.68l1.68 1.68l-1.68 1.68zM421.72 379.40l1.68 -1.68l1.68 1.68l-1.68 1.68zM420.72 385.40l1.68 -1.68l1.68 1.68l-1.68 1.68zM426.72 385.40l1.68 -1.68l1.68 1.68l-1.68 1.68zM419.72 394.40l1.68 -1.68l1.68 1.68l-1.68 1.68zM417.72 396.40l1.68 -1.68l1.68 1.68l-1.68 1.68zM419.72 401.40l1.68 -1.68l1.68 1.68l-1.68 1.68zM442.72 363.40l1.68 -1.68l1.68 1.68l-1.68 1.68zM443.72 364.40l1.68 -1.68l1.68 1.68l-1.68 1.68zM446.72 365.40l1.68 -1.68l1.68 1.68l-1.68 1.68zM449.72 366.40l1.68 -1.68l1.68 1.68l-1.68 1.68zM443.72 369.40l1.68 -1.68l1.68 1.68l-1.68 1.68zM442.72 373.40l1.68 -1.68l1.68 1.68l-1.68 1.68zM440.72 374.40l1.68 -1.68l1.68 1.68l-1.68 1.68zM436.72 376.40l1.68 -1.68l1.68 1.68l-1.68 1.68zM445.72 376.40l1.68 -1.68l1.68 1.68l-1.68 1.68zM442.72 380.40l1.68 -1.68l1.68 1.68l-1.68 1.68zM450.72 385.10l1.68 -1.68l1.68 1.68l-1.68 1.68zM450.72 387.60l1.68 -1.68l1.68 1.68l-1.68 1.68zM450.72 396.40l1.68 -1.68l1.68 1.68l-1.68 1.68zM454.72 403.40l1.68 -1.68l1.68 1.68l-1.68 1.68zM456.72 403.40l1.68 -1.68l1.68 1.68l-1.68 1.68zM454.72 405.40l1.68 -1.68l1.68 1.68l-1.68 1.68zM402.82 413.30l1.68 -1.68l1.68 1.68l-1.68 1.68zM401.82 414.30l1.68 -1.68l1.68 1.68l-1.68 1.68zM399.82 423.50l1.68 -1.68l1.68 1.68l-1.68 1.68zM401.82 434.50l1.68 -1.68l1.68 1.68l-1.68 1.68zM404.82 434.50l1.68 -1.68l1.68 1.68l-1.68 1.68zM400.82 436.00l1.68 -1.68l1.68 1.68l-1.68 1.68zM418.82 412.50l1.68 -1.68l1.68 1.68l-1.68 1.68zM420.82 412.50l1.68 -1.68l1.68 1.68l-1.68 1.68zM418.82 418.50l1.68 -1.68l1.68 1.68l-1.68 1.68zM415.82 426.50l1.68 -1.68l1.68 1.68l-1.68 1.68zM411.82 431.30l1.68 -1.68l1.68 1.68l-1.68 1.68zM414.82 431.30l1.68 -1.68l1.68 1.68l-1.68 1.68zM415.82 433.00l1.68 -1.68l1.68 1.68l-1.68 1.68zM416.32 435.00l1.68 -1.68l1.68 1.68l-1.68 1.68zM418.82 434.50l1.68 -1.68l1.68 1.68l-1.68 1.68zM417.82 436.00l1.68 -1.68l1.68 1.68l-1.68 1.68zM412.82 437.30l1.68 -1.68l1.68 1.68l-1.68 1.68zM428.82 431.30l1.68 -1.68l1.68 1.68l-1.68 1.68zM427.82 434.50l1.68 -1.68l1.68 1.68l-1.68 1.68zM425.82 435.50l1.68 -1.68l1.68 1.68l-1.68 1.68zM436.82 436.30l1.68 -1.68l1.68 1.68l-1.68 1.68zM454.82 409.50l1.68 -1.68l1.68 1.68l-1.68 1.68zM456.82 412.50l1.68 -1.68l1.68 1.68l-1.68 1.68zM455.82 413.50l1.68 -1.68l1.68 1.68l-1.68 1.68zM455.82 422.50l1.68 -1.68l1.68 1.68l-1.68 1.68zM457.82 422.50l1.68 -1.68l1.68 1.68l-1.68 1.68zM457.82 429.50l1.68 -1.68l1.68 1.68l-1.68 1.68zM455.82 430.50l1.68 -1.68l1.68 1.68l-1.68 1.68zM445.82 434.50l1.68 -1.68l1.68 1.68l-1.68 1.68zM458.32 434.50l1.68 -1.68l1.68 1.68l-1.68 1.68zM458.82 436.00l1.68 -1.68l1.68 1.68l-1.68 1.68zM266.82 396.50l1.68 -1.68l1.68 1.68l-1.68 1.68zM301.82 397.50l1.68 -1.68l1.68 1.68l-1.68 1.68zM304.82 400.50l1.68 -1.68l1.68 1.68l-1.68 1.68zM303.82 412.50l1.68 -1.68l1.68 1.68l-1.68 1.68zM301.82 416.30l1.68 -1.68l1.68 1.68l-1.68 1.68zM304.82 418.50l1.68 -1.68l1.68 1.68l-1.68 1.68zM305.82 420.50l1.68 -1.68l1.68 1.68l-1.68 1.68zM313.82 419.30l1.68 -1.68l1.68 1.68l-1.68 1.68zM280.82 421.30l1.68 -1.68l1.68 1.68l-1.68 1.68zM297.82 425.30l1.68 -1.68l1.68 1.68l-1.68 1.68zM288.82 428.30l1.68 -1.68l1.68 1.68l-1.68 1.68zM267.82 430.30l1.68 -1.68l1.68 1.68l-1.68 1.68zM288.82 431.50l1.68 -1.68l1.68 1.68l-1.68 1.68zM315.82 432.50l1.68 -1.68l1.68 1.68l-1.68 1.68zM280.82 434.50l1.68 -1.68l1.68 1.68l-1.68 1.68zM290.82 436.00l1.68 -1.68l1.68 1.68l-1.68 1.68zM287.82 437.50l1.68 -1.68l1.68 1.68l-1.68 1.68zM318.82 437.00l1.68 -1.68l1.68 1.68l-1.68 1.68zM275.72 120.40l1.68 -1.68l1.68 1.68l-1.68 1.68zM291.72 125.40l1.68 -1.68l1.68 1.68l-1.68 1.68zM278.72 156.40l1.68 -1.68l1.68 1.68l-1.68 1.68zM281.72 156.40l1.68 -1.68l1.68 1.68l-1.68 1.68zM275.72 162.40l1.68 -1.68l1.68 1.68l-1.68 1.68zM260.72 163.40l1.68 -1.68l1.68 1.68l-1.68 1.68zM298.72 164.40l1.68 -1.68l1.68 1.68l-1.68 1.68zM279.72 169.40l1.68 -1.68l1.68 1.68l-1.68 1.68zM287.72 212.40l1.68 -1.68l1.68 1.68l-1.68 1.68zM287.72 247.40l1.68 -1.68l1.68 1.68l-1.68 1.68zM289.72 284.40l1.68 -1.68l1.68 1.68l-1.68 1.68zM279.72 308.40l1.68 -1.68l1.68 1.68l-1.68 1.68zM274.72 315.40l1.68 -1.68l1.68 1.68l-1.68 1.68zM297.72 369.40l1.68 -1.68l1.68 1.68l-1.68 1.68zM302.72 370.40l1.68 -1.68l1.68 1.68l-1.68 1.68zM282.72 380.40l1.68 -1.68l1.68 1.68l-1.68 1.68zM275.72 386.40l1.68 -1.68l1.68 1.68l-1.68 1.68zM290.72 390.40l1.68 -1.68l1.68 1.68l-1.68 1.68zM281.82 438.00l1.68 -1.68l1.68 1.68l-1.68 1.68zM290.82 438.00l1.68 -1.68l1.68 1.68l-1.68 1.68zM314.82 438.00l1.68 -1.68l1.68 1.68l-1.68 1.68z"/><path d="M66.5 438H150.4M304.5 438H307.5M319.5 438H322.5M327.5 438H362.3M365.5 438H384.3M388.5 438H419.3M431.5 438H435.5M453.5 438H455.5M460.5 438H619.5" stroke="#f00" stroke-width="2.55" stroke-linecap="round" fill="none"/>
<line x1="65" y1="439.5" x2="620" y2="439.5" stroke="#000" stroke-opacity="0.6" shape-rendering="crispEdges"/>
<g font-family="'Liberation Sans', sans-serif" font-size="11.4" fill="#000" opacity="0.999"><text x="37.7" y="443.1" textLength="21.0" lengthAdjust="spacingAndGlyphs">400</text><text x="37.7" y="403.1" textLength="21.0" lengthAdjust="spacingAndGlyphs">500</text><text x="37.7" y="363.1" textLength="21.0" lengthAdjust="spacingAndGlyphs">600</text><text x="37.7" y="323.1" textLength="21.0" lengthAdjust="spacingAndGlyphs">700</text><text x="37.7" y="283.1" textLength="21.0" lengthAdjust="spacingAndGlyphs">800</text><text x="37.7" y="243.1" textLength="21.0" lengthAdjust="spacingAndGlyphs">900</text><text x="30.7" y="203.1" textLength="28.0" lengthAdjust="spacingAndGlyphs">1000</text><text x="30.7" y="163.1" textLength="28.0" lengthAdjust="spacingAndGlyphs">1100</text><text x="30.7" y="123.1" textLength="28.0" lengthAdjust="spacingAndGlyphs">1200</text><text x="30.7" y="83.1" textLength="28.0" lengthAdjust="spacingAndGlyphs">1300</text><text x="30.7" y="43.1" textLength="28.0" lengthAdjust="spacingAndGlyphs">1400</text><text x="50.0" y="456.1" textLength="30.7" lengthAdjust="spacingAndGlyphs">00:00</text><text x="143.0" y="456.1" textLength="30.7" lengthAdjust="spacingAndGlyphs">04:00</text><text x="235.0" y="456.1" textLength="30.7" lengthAdjust="spacingAndGlyphs">08:00</text><text x="327.0" y="456.1" textLength="30.7" lengthAdjust="spacingAndGlyphs">12:00</text><text x="419.0" y="456.1" textLength="30.7" lengthAdjust="spacingAndGlyphs">16:00</text><text x="512.0" y="456.1" textLength="30.7" lengthAdjust="spacingAndGlyphs">20:00</text><text x="603.7" y="456.1" textLength="30.7" lengthAdjust="spacingAndGlyphs">00:00</text><text x="138.9" y="24.1" textLength="407.6" lengthAdjust="spacingAndGlyphs">Total UV radiation intensity (uncalibrated). Metsähovi Radio Observatory</text><text x="260.2" y="475.2" textLength="164.6" lengthAdjust="spacingAndGlyphs">Time UT, on date 2015-04-24</text><text transform="translate(14.0 275.5) rotate(-90)" textLength="73.8" lengthAdjust="spacingAndGlyphs" stroke="#fff" stroke-width="0.14">Arbitrary unit</text></g>
</svg>
</body></html>
